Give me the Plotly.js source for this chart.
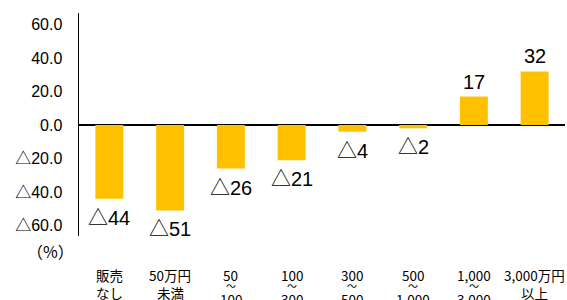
<!DOCTYPE html>
<html>
<head>
<meta charset="utf-8">
<script src="https://cdn.plot.ly/plotly-3.0.1.min.js"></script>
<style>html,body{margin:0;padding:0;background:#fff;}#chart{width:567px;height:300px;}</style>
</head>
<body>
<div id="chart"></div>
<script>
const categories = ['c0','c1','c2','c3','c4','c5','c6','c7'];
const values = [-44, -51, -26, -21, -4, -2, 17, 32];
const labelTop = ['販売','50万円','50','100','300','500','1,000','3,000万円'];
const labelMid = ['','','～','～','～','～','～',''];
const labelBottom = ['なし','未満','100','300','500','1,000','3,000','以上'];
const tickVals = [-60, -40, -20, 0, 20, 40, 60];
const tickText = ['△60.0','△40.0','△20.0','0.0','20.0','40.0','60.0'];

const barText = values.map(v => v < 0 ? '△' + Math.abs(v) : String(v));
const fontFam = '"Liberation Sans", Arial, "Noto Sans CJK JP", sans-serif';
const cjkFam = '"Noto Sans CJK JP", "Liberation Sans", sans-serif';

const trace = {
  type: 'bar',
  x: categories,
  y: values,
  marker: {color: '#FFC000'},
  width: 0.46,
  hoverinfo: 'none'
};

const annotations = [];
categories.forEach((c, i) => {
  const v = values[i];
  annotations.push({x: c, xref: 'x', y: v, yref: 'y', yanchor: v < 0 ? 'top' : 'bottom',
    yshift: v < 0 ? -6 : 2, text: barText[i], showarrow: false,
    font: {family: fontFam, size: 20, color: '#000'}});
  const three = !!labelMid[i];
  annotations.push({x: c, xref: 'x', y: 0, yref: 'paper', yanchor: 'top', yshift: -27,
    text: labelTop[i], showarrow: false, font: {family: cjkFam, size: 13.5, color: '#000'}});
  if (three) annotations.push({x: c, xref: 'x', y: 0, yref: 'paper', yanchor: 'top', yshift: -40,
    text: labelMid[i], showarrow: false, font: {family: cjkFam, size: 10, color: '#000'}});
  annotations.push({x: c, xref: 'x', y: 0, yref: 'paper', yanchor: 'top', yshift: three ? -51 : -45,
    text: labelBottom[i], showarrow: false, font: {family: cjkFam, size: 13.5, color: '#000'}});
});
annotations.push({x: 0, xref: 'paper', xanchor: 'right', xshift: -3, y: 0, yref: 'paper', yanchor: 'top', yshift: -1,
  text: '（%）', showarrow: false, font: {family: cjkFam, size: 16, color: '#000'}});

const layout = {
  width: 567, height: 300,
  margin: {l: 79, r: 2, t: 13, b: 64},
  paper_bgcolor: '#fff', plot_bgcolor: '#fff',
  showlegend: false,
  xaxis: {range: [-0.5, 7.5], showticklabels: false, showline: false, showgrid: false, zeroline: false, fixedrange: true, automargin: false},
  yaxis: {range: [-66.3, 66.9], tickvals: tickVals, ticktext: tickText, showgrid: false, automargin: false,
    zeroline: true, zerolinecolor: '#000', zerolinewidth: 1.5,
    showline: true, linecolor: '#000', linewidth: 1.5, ticks: '', ticklabelstandoff: 12,
    tickfont: {family: fontFam, size: 16, color: '#000'}},
  annotations: annotations
};

Plotly.newPlot('chart', [trace], layout, {displayModeBar: false, staticPlot: true});
</script>
</body>
</html>
